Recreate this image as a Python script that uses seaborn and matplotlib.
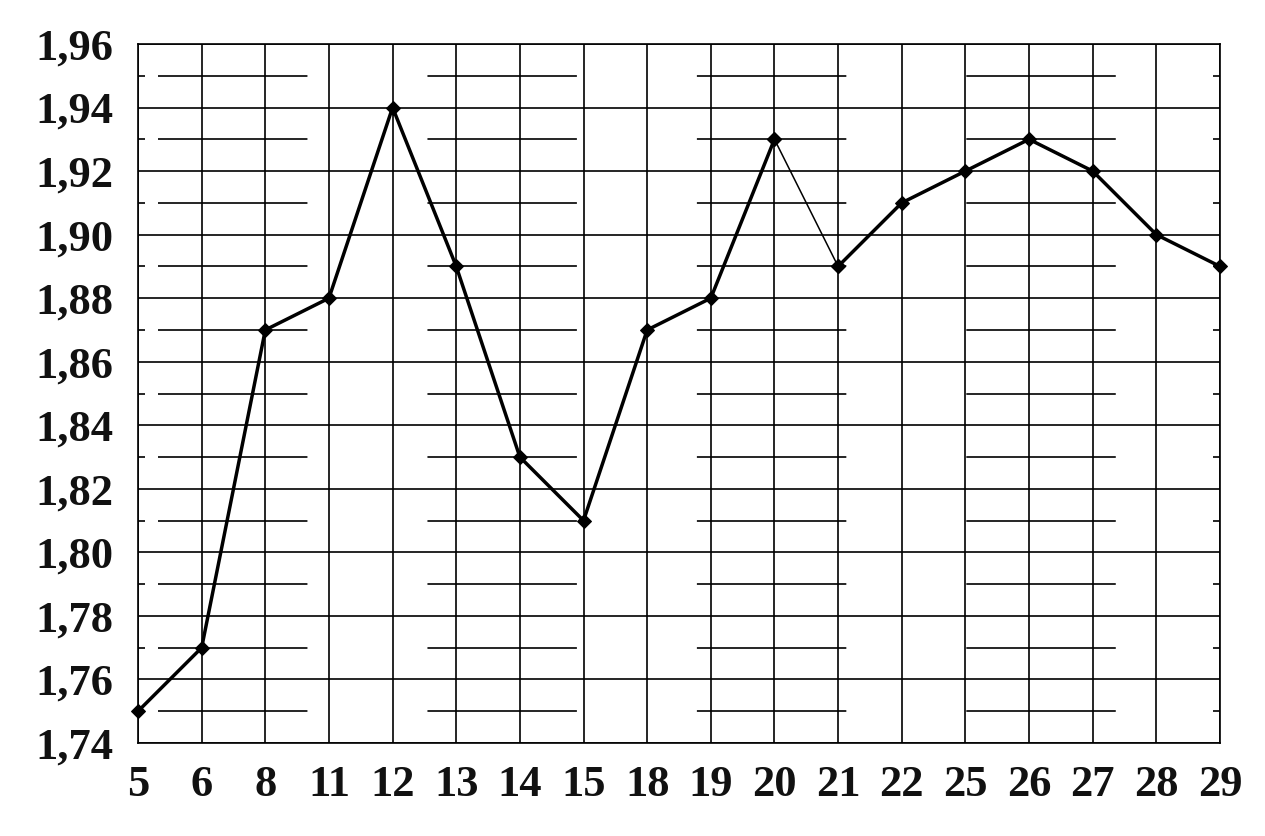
import numpy as np
import pandas as pd
import matplotlib.pyplot as plt
import seaborn as sns
from matplotlib.ticker import AutoMinorLocator

# values
days = ["5", "6", "8", "11", "12", "13", "14", "15", "18", "19",
        "20", "21", "22", "25", "26", "27", "28", "29"]
values = [1.75, 1.77, 1.87, 1.88, 1.94, 1.89, 1.83, 1.81, 1.87, 1.88,
          1.93, 1.89, 1.91, 1.92, 1.93, 1.92, 1.90, 1.89]
y_ticks = [1.74, 1.76, 1.78, 1.80, 1.82, 1.84, 1.86, 1.88, 1.90, 1.92, 1.94, 1.96]

data = pd.DataFrame({"pos": np.arange(len(days)), "value": values})

sns.set_style("white")
plt.rcParams["font.family"] = ["Liberation Serif", "DejaVu Serif"]
plt.rcParams["font.weight"] = "bold"
plt.rcParams["lines.scale_dashes"] = False

fig = plt.figure(figsize=(12.65, 8.36), dpi=100)
ax = fig.add_axes([0.1091, 0.1112, 0.8553, 0.8362])

# the 20 -> 21 segment is drawn thinner in the original
line_kw = dict(x="pos", y="value", color="black", marker="D", markersize=7,
               markeredgecolor="black", ax=ax, zorder=5, clip_on=False)
sns.lineplot(data=data.iloc[:11], linewidth=2.5, **line_kw)
sns.lineplot(data=data.iloc[10:12], linewidth=1.1, **line_kw)
sns.lineplot(data=data.iloc[11:], linewidth=2.5, **line_kw)

ax.set_xlim(0, len(days) - 1)
ax.set_ylim(1.74, 1.96)
ax.set_xticks(data["pos"])
ax.set_xticklabels(days)
ax.set_yticks(y_ticks)
ax.set_yticklabels([f"{v:.2f}".replace(".", ",") for v in y_ticks])
ax.yaxis.set_minor_locator(AutoMinorLocator(2))
ax.set_xlabel("")
ax.set_ylabel("")

# grid: solid major lines, broken minor lines
ax.grid(which="major", color="black", linewidth=1.2)
ax.yaxis.grid(which="minor", color="black", linewidth=1.2,
              linestyle=(179.6, (107.6, 86.4)))
ax.set_axisbelow(True)

for s in ax.spines.values():
    s.set_color("black")
    s.set_linewidth(1.2)

ax.tick_params(axis="both", which="major", direction="out", length=8, width=1.2,
               labelsize=32, color="black", labelcolor="#111111")
ax.tick_params(axis="y", which="major", pad=10)
ax.tick_params(axis="y", which="minor", direction="in", left=True, right=True,
               length=5, width=1.2, color="black")
ax.tick_params(axis="x", which="major", pad=8)

plt.savefig("out.png", dpi=100)
